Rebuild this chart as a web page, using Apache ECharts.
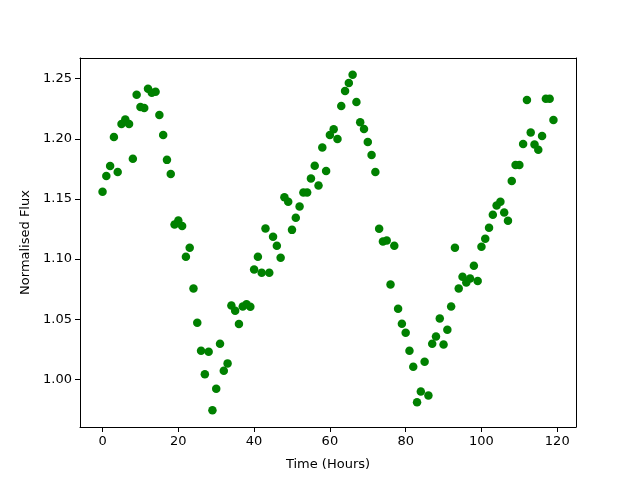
<!DOCTYPE html>
<html>
<head>
<meta charset="utf-8">
<script src="https://cdn.jsdelivr.net/npm/echarts@6/dist/echarts.min.js"></script>
<style>
  html, body { margin: 0; padding: 0; background: #fff; }
  #chart { width: 640px; height: 480px; }
</style>
</head>
<body>
<div id="chart"></div>
<script>
// hours since start of observation
var hours = [];
for (var h = 0; h < 120; h++) hours.push(h);

// normalised flux
var flux = [
  1.156, 1.169, 1.1775, 1.2016, 1.1725, 1.2124, 1.216, 1.2124, 1.1835, 1.2367,
  1.2265, 1.2257, 1.2417, 1.2384, 1.2392, 1.2198, 1.2032, 1.1825, 1.1708, 1.1287,
  1.132, 1.1276, 1.1019, 1.1094, 1.0756, 1.0471, 1.0238, 1.0042, 1.023, 0.9743,
  0.9923, 1.0296, 1.0072, 1.0133, 1.0615, 1.057, 1.046, 1.0606, 1.0625, 1.0604,
  1.0914, 1.1019, 1.0886, 1.1254, 1.0886, 1.1185, 1.111, 1.1011, 1.1514, 1.1476,
  1.1243, 1.1343, 1.1437, 1.1553, 1.1553, 1.167, 1.1777, 1.1611, 1.1927, 1.1733,
  1.2032, 1.2079, 1.1999, 1.2273, 1.2398, 1.2464, 1.2533, 1.2306, 1.2137, 1.2082,
  1.1974, 1.1866, 1.1725, 1.1252, 1.1146, 1.1154, 1.0789, 1.111, 1.0587, 1.0462,
  1.0388, 1.0238, 1.0105, 0.9809, 0.990, 1.0147, 0.9865, 1.0296, 1.0357, 1.0507,
  1.029, 1.0413, 1.0606, 1.1094, 1.0756, 1.0853, 1.0806, 1.0839, 1.0944, 1.0817,
  1.1102, 1.1169, 1.126, 1.1368, 1.1445, 1.1476, 1.1387, 1.1318, 1.165, 1.1783,
  1.1783, 1.1957, 1.2323, 1.2052, 1.1952, 1.191, 1.2024, 1.2334, 1.2334, 1.2157
];

var xTicks = [0, 20, 40, 60, 80, 100, 120];
var yTicks = [1.00, 1.05, 1.10, 1.15, 1.20, 1.25];

var points = hours.map(function (h, i) { return [h, flux[i]]; });

var font = "DejaVu Sans";
var xMin = -5.95, xMax = 124.95;
var yMin = 0.9604, yMax = 1.2672;

// plain frame axes (top / right) with no ticks or labels
function frameAxis(pos, min, max) {
  return {
    type: "value", position: pos, min: min, max: max,
    axisLine: { show: true, onZero: false, lineStyle: { color: "#000", width: 1 } },
    axisTick: { show: false }, axisLabel: { show: false }, splitLine: { show: false }
  };
}

var chart = echarts.init(document.getElementById("chart"));

chart.setOption({
  animation: false,
  backgroundColor: "#fff",
  grid: { left: 80, right: 64, top: 58, bottom: 53, containLabel: false },
  xAxis: [
    {
      type: "value",
      position: "bottom",
      min: xMin,
      max: xMax,
      name: "Time (Hours)",
      nameLocation: "middle",
      nameGap: 31,
      nameTextStyle: { color: "#000", fontFamily: font, fontSize: 13 },
      axisLine: { show: true, onZero: false, lineStyle: { color: "#000", width: 1 } },
      axisTick: { show: true, length: 5, inside: false, customValues: xTicks, lineStyle: { color: "#000" } },
      axisLabel: { color: "#000", fontFamily: font, fontSize: 13, margin: 8, customValues: xTicks },
      splitLine: { show: false }
    },
    frameAxis("top", xMin, xMax)
  ],
  yAxis: [
    {
      type: "value",
      position: "left",
      min: yMin,
      max: yMax,
      name: "Normalised Flux",
      nameLocation: "middle",
      nameGap: 47,
      nameTextStyle: { color: "#000", fontFamily: font, fontSize: 13 },
      axisLine: { show: true, onZero: false, lineStyle: { color: "#000", width: 1 } },
      axisTick: { show: true, length: 5, inside: false, customValues: yTicks, lineStyle: { color: "#000" } },
      axisLabel: {
        color: "#000", fontFamily: font, fontSize: 13, margin: 8, customValues: yTicks,
        formatter: function (v) { return v.toFixed(2); }
      },
      splitLine: { show: false }
    },
    frameAxis("right", yMin, yMax)
  ],
  series: [
    {
      type: "scatter",
      xAxisIndex: 0,
      yAxisIndex: 0,
      data: points,
      symbol: "circle",
      symbolSize: 8.5,
      itemStyle: { color: "#008000", opacity: 1 }
    }
  ]
});
</script>
</body>
</html>
